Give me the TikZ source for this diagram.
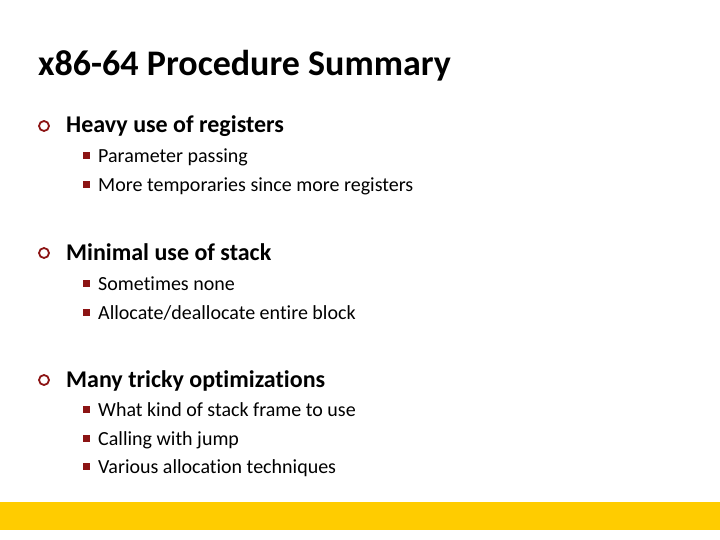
\documentclass[tikz,border=0pt]{standalone}
\usepackage{fontspec}
\setmainfont{Carlito}[Ligatures=NoCommon]
\usetikzlibrary{positioning}
\definecolor{bulletred}{RGB}{140,20,20}
\definecolor{baryellow}{RGB}{255,204,0}
\tikzset{
  title/.style={anchor=base west, inner sep=0pt, font=\fontsize{36}{40}\selectfont\bfseries},
  topic/.style={anchor=base west, inner sep=0pt, font=\fontsize{24}{28}\selectfont\bfseries},
  point/.style={anchor=base west, inner sep=0pt, font=\fontsize{20}{24}\selectfont},
  ring/.style={draw=bulletred, line width=1.8pt, circle, minimum size=10pt, inner sep=0pt},
  sq/.style={fill=bulletred, minimum size=7pt, inner sep=0pt}
}
\begin{document}
\begin{tikzpicture}[x=1pt,y=-1pt]
  \useasboundingbox (0,0) rectangle (720,540);
  \fill[baryellow] (0,502) rectangle (720,530);
  \node[title] (head) at (38,76) {x86-64 Procedure Summary};
  % first topic
  \node[ring] (r1) at (44,126) {};
  \node[topic] (t1) at (66,133) {Heavy use of registers};
  \node[sq] (s11) at (86,156) {};
  \node[point] (p11) at (98,163) {Parameter passing};
  \node[sq] (s12) at (86,185) {};
  \node[point] (p12) at (98,192) {More temporaries since more registers};
  % second topic
  \node[ring] (r2) at (44,253) {};
  \node[topic] (t2) at (66,260) {Minimal use of stack};
  \node[sq] (s21) at (86,283) {};
  \node[point] (p21) at (98,290) {Sometimes none};
  \node[sq] (s22) at (86,312) {};
  \node[point] (p22) at (98,319) {Allocate/deallocate entire block};
  % third topic
  \node[ring] (r3) at (44,380) {};
  \node[topic] (t3) at (66,387) {Many tricky optimizations};
  \node[sq] (s31) at (86,409) {};
  \node[point] (p31) at (98,416) {What kind of stack frame to use};
  \node[sq] (s32) at (86,438) {};
  \node[point] (p32) at (98,445) {Calling with jump};
  \node[sq] (s33) at (86,466) {};
  \node[point] (p33) at (98,473) {Various allocation techniques};
\end{tikzpicture}
\end{document}
